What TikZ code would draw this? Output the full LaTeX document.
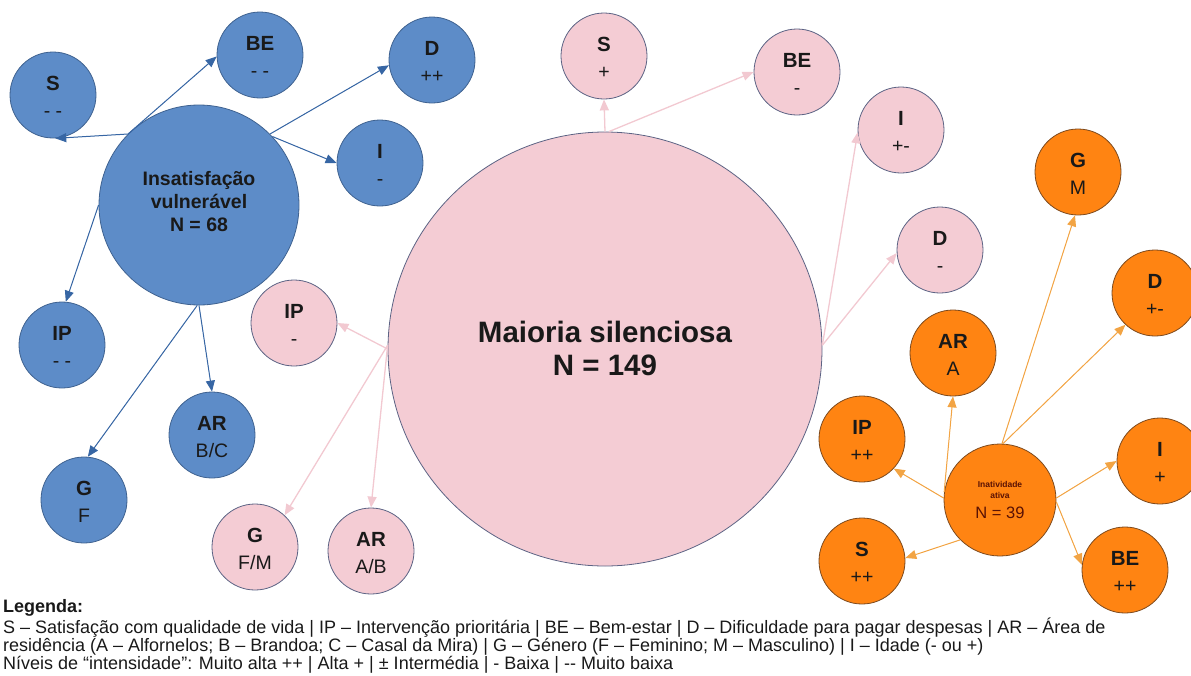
\documentclass[tikz,border=0pt]{standalone}
\usepackage{fontspec}
\setmainfont{Liberation Sans}
\usetikzlibrary{arrows.meta}
\definecolor{bfill}{HTML}{5D8CC8}
\definecolor{bdraw}{HTML}{3F6290}
\definecolor{barr}{HTML}{3766A4}
\definecolor{pfill}{HTML}{F4CCD4}
\definecolor{pdraw}{HTML}{5C6384}
\definecolor{parr}{HTML}{F2C9D1}
\definecolor{ofill}{HTML}{FF8412}
\definecolor{odraw}{HTML}{7D4A1E}
\definecolor{oarr}{HTML}{F2A444}
\definecolor{otxt}{HTML}{5A1204}
\tikzset{
  circ/.style={circle,inner sep=0pt,minimum size=86pt,line width=0.8pt},
  bc/.style={circ,fill=bfill,draw=bdraw},
  pc/.style={circ,fill=pfill,draw=pdraw},
  oc/.style={circ,fill=ofill,draw=odraw},
  ttl/.style={anchor=base,inner sep=0pt,font=\bfseries\fontsize{20.5}{20.5}\selectfont,text=black!90},
  val/.style={anchor=base,inner sep=0pt,font=\fontsize{19.5}{19.5}\selectfont,text=black!90},
  insl/.style={anchor=base,inner sep=0pt,font=\bfseries\fontsize{19.5}{19.5}\selectfont,text=black!90},
  arr/.style={line width=1pt,-{Triangle[length=11pt,width=9pt]}},
  barrow/.style={arr,draw=barr,fill=barr},
  parrow/.style={arr,draw=parr,fill=parr,line width=1.3pt},
  oarrow/.style={arr,draw=oarr,fill=oarr},
  leg/.style={anchor=base west,inner sep=0pt,font=\fontsize{18}{18}\selectfont,text=black!90}
}
\newcommand\bubble[6]{%
  \node[#1] (#2) at (#3,#4) {};
  \node[ttl] at (#3,#4-5) {#5};
  \node[val] at (#3,#4+22) {#6};
}
\begin{document}
\begin{tikzpicture}[x=1pt,y=-1pt]
\useasboundingbox (0,0) rectangle (1191,675);
\begin{scope}
\clip (0,0) rectangle (1191,675);
% big circles
\node[circle,inner sep=0pt,minimum size=200pt,fill=bfill,draw=bdraw,line width=0.8pt] (ins) at (199,205) {};
\node[insl] at (199,185) {Insatisfação};
\node[insl] at (199,208) {vulnerável};
\node[insl] at (199,231) {N = 68};

\node[circle,inner sep=0pt,minimum size=434pt,fill=pfill,draw=pdraw,line width=0.8pt] (big) at (605,349) {};
\node[anchor=base,inner sep=0pt,font=\bfseries\fontsize{29.5}{29.5}\selectfont,text=black!90] at (605,342) {Maioria silenciosa};
\node[anchor=base,inner sep=0pt,font=\bfseries\fontsize{29.5}{29.5}\selectfont,text=black!90] at (605,375) {N = 149};

\node[circle,inner sep=0pt,minimum size=112pt,fill=ofill,draw=odraw,line width=0.8pt] (ina) at (1000,500) {};
\node[anchor=base,inner sep=0pt,font=\bfseries\fontsize{8.5}{8.5}\selectfont,text=otxt] at (1000,487) {Inatividade};
\node[anchor=base,inner sep=0pt,font=\bfseries\fontsize{8.5}{8.5}\selectfont,text=otxt] at (1000,498) {ativa};
\node[anchor=base,inner sep=0pt,font=\fontsize{16.5}{16.5}\selectfont,text=otxt] at (1000,518) {N = 39};

% blue bubbles
\bubble{bc}{bS}{53}{95}{S}{- -}
\bubble{bc}{bBE}{260}{55}{BE}{- -}
\bubble{bc}{bD}{432}{60}{D}{++}
\bubble{bc}{bI}{380}{163}{I}{-}
\bubble{bc}{bIP}{62}{345}{IP}{- -}
\bubble{bc}{bAR}{212}{435}{AR}{B/C}
\bubble{bc}{bG}{84}{500}{G}{F}
% pink bubbles
\bubble{pc}{pS}{604}{56}{S}{+}
\bubble{pc}{pBE}{797}{72}{BE}{-}
\bubble{pc}{pI}{901}{130}{I}{+-}
\bubble{pc}{pD}{940}{250}{D}{-}
\bubble{pc}{pIP}{294}{323}{IP}{-}
\bubble{pc}{pG}{255}{547}{G}{F/M}
\bubble{pc}{pAR}{371}{551}{AR}{A/B}
% orange bubbles
\bubble{oc}{oG}{1078}{172}{G}{M}
\bubble{oc}{oD}{1155}{293}{D}{+-}
\bubble{oc}{oAR}{953}{353}{AR}{A}
\bubble{oc}{oIP}{862}{439}{IP}{++}
\bubble{oc}{oI}{1160}{461}{I}{+}
\bubble{oc}{oS}{862}{561}{S}{++}
\bubble{oc}{oBE}{1125}{570}{BE}{++}

% blue arrows
\draw[barrow] (ins.135) -- (bS.-87);
\draw[barrow] (ins.135) -- (bBE.182);
\draw[barrow] (ins.45) -- (bD.187);
\draw[barrow] (ins.43) -- (bI.180);
\draw[barrow] (ins.180) -- (bIP.85);
\draw[barrow] (ins.-90) -- (bAR.90);
\draw[barrow] (ins.-91) -- (bG.85);
% pink arrows
\draw[parrow] (big.90) -- (pS.-90);
\draw[parrow] (big.89) -- (pBE.180);
\draw[parrow] (big.1) -- (pI.183);
\draw[parrow] (big.1) -- (pD.184);
\draw[parrow] (big.180) -- (pIP.0);
\draw[parrow] (big.179) -- (pG.47);
\draw[parrow] (big.179) -- (pAR.90);
% orange arrows
\draw[oarrow] (ina.88) -- (oG.-94);
\draw[oarrow] (ina.87) -- (oD.-133);
\draw[oarrow] (ina.172) -- (oAR.-90);
\draw[oarrow] (ina.178) -- (oIP.-43);
\draw[oarrow] (ina.225) -- (oS.4);
\draw[oarrow] (ina.2) -- (oI.180);
\draw[oarrow] (ina.-2) -- (oBE.173);
\end{scope}

% legend
\node[leg,font=\bfseries\fontsize{18}{18}\selectfont] (l1) at (3,612) {Legenda:};
\node[leg] (l2) at (3,633) {S – Satisfação com qualidade de vida | IP – Intervenção prioritária | BE – Bem-estar | D – Dificuldade para pagar despesas | AR – Área de};
\node[leg] (l3) at (3,651) {residência (A – Alfornelos; B – Brandoa; C – Casal da Mira) | G – Género (F – Feminino; M – Masculino) | I – Idade (- ou +)};
\node[leg] (l4) at (3,669) {Níveis de “intensidade”: Muito alta ++ | Alta + | ± Intermédia | - Baixa | -{}- Muito baixa};
\end{tikzpicture}
\end{document}
